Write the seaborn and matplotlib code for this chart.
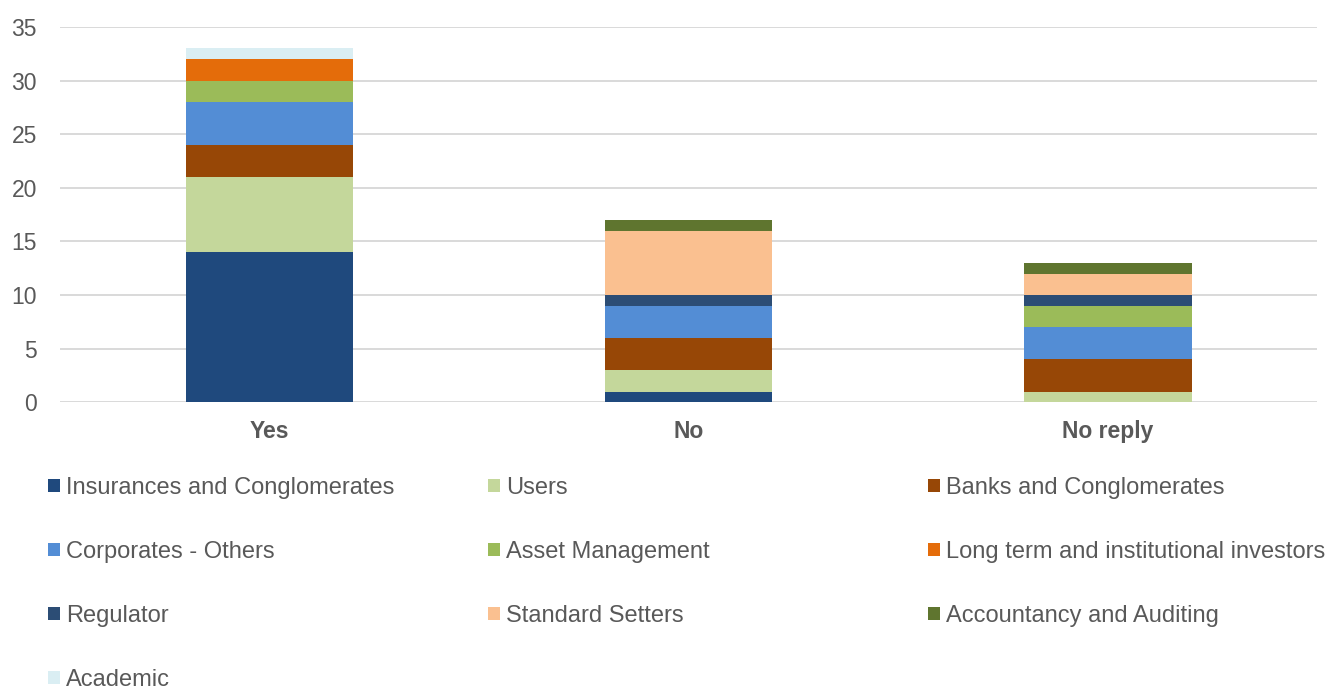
import matplotlib
matplotlib.use("Agg")
import matplotlib.pyplot as plt
import matplotlib.patches as mpatches
import seaborn as sns
import pandas as pd

categories = ["Yes", "No", "No reply"]
series_names = [
    "Insurances and Conglomerates", "Users", "Banks and Conglomerates",
    "Corporates - Others", "Asset Management", "Long term and institutional investors",
    "Regulator", "Standard Setters", "Accountancy and Auditing", "Academic",
]
insurances = [14, 1, 0]
users = [7, 2, 1]
banks = [3, 3, 3]
corporates = [4, 3, 3]
asset_mgmt = [2, 0, 2]
long_term = [2, 0, 0]
regulator = [0, 1, 1]
standard_setters = [0, 6, 2]
accountancy = [0, 1, 1]
academic = [1, 0, 0]
yticks = [0, 5, 10, 15, 20, 25, 30, 35]

colors = ["#1F497D", "#C4D79B", "#974706", "#538DD5", "#9BBB59", "#E46C0A",
          "#2C4D75", "#FAC090", "#5F752F", "#DAEEF3"]

values = [insurances, users, banks, corporates, asset_mgmt, long_term,
          regulator, standard_setters, accountancy, academic]

sns.set_theme(style="white")
plt.rcParams["font.family"] = ["Liberation Sans", "DejaVu Sans"]
text_color = "#595959"

fig = plt.figure(figsize=(13.32, 6.9), dpi=100)
ax = fig.add_axes([0.045, 0.417, 0.944, 0.544])

bottom = [0, 0, 0]
for name, vals, col in zip(series_names, values, colors):
    df = pd.DataFrame({"cat": categories, "val": vals})
    sns.barplot(data=df, x="cat", y="val", order=categories, color=col,
                bottom=bottom, width=0.4, ax=ax, saturation=1,
                edgecolor="none", linewidth=0, zorder=3)
    bottom = [b + v for b, v in zip(bottom, vals)]

ax.set_ylim(0, 35)
ax.set_yticks(yticks)
ax.set_xlim(-0.5, 2.5)
ax.grid(axis="y", color="#D9D9D9", linewidth=1.4, zorder=0)
ax.set_axisbelow(True)
for s in ax.spines.values():
    s.set_visible(False)
ax.set_xlabel("")
ax.set_ylabel("")
ax.tick_params(axis="y", labelsize=16.5, labelcolor=text_color, length=0, pad=16.5)
ax.tick_params(axis="x", labelsize=16.5, labelcolor=text_color, length=0, pad=13)
for lbl in ax.get_xticklabels():
    lbl.set_fontweight("bold")

# legend: three columns, row-wise order
handles = [mpatches.Patch(facecolor=c, edgecolor="none") for c in colors]
col_x = [0.036, 0.3664, 0.6967]
for ci in range(3):
    idx = list(range(ci, len(series_names), 3))
    fig.legend([handles[i] for i in idx], [series_names[i] for i in idx],
               loc="upper left", bbox_to_anchor=(col_x[ci], 0.309),
               frameon=False, fontsize=17, labelcolor=text_color,
               handlelength=0.52, handleheight=0.52, handletextpad=0.25,
               labelspacing=1.78, borderpad=0, borderaxespad=0)

fig.savefig("out.png", dpi=100)
